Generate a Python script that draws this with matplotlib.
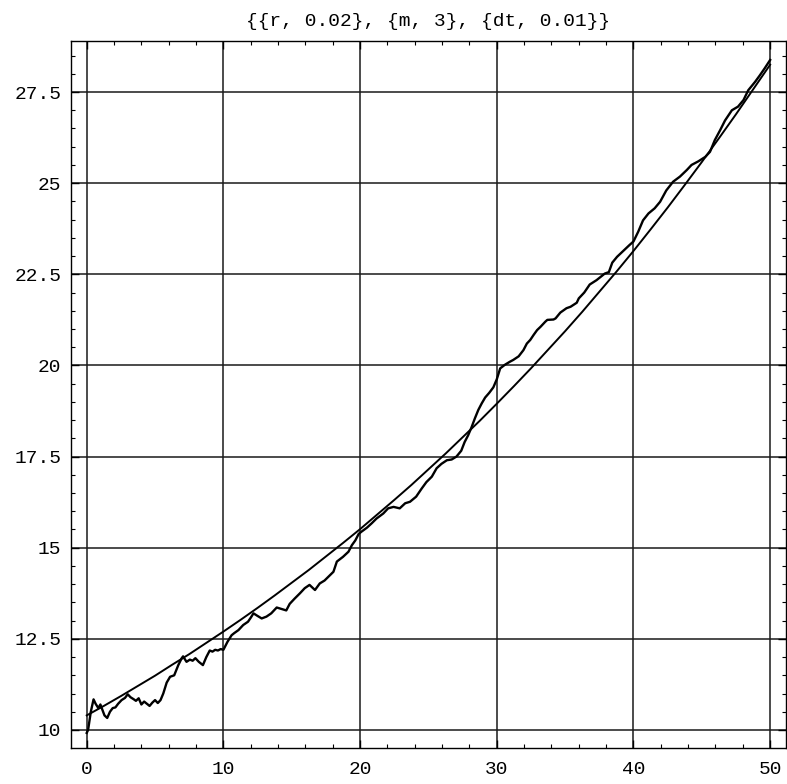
import matplotlib
matplotlib.use("Agg")
import matplotlib.pyplot as plt
from matplotlib.ticker import MultipleLocator

# ---- data ----
path_t = [0.0, 0.1, 0.3, 0.5, 0.65, 0.85, 1.0, 1.15, 1.3, 1.5, 1.7, 1.9, 2.1, 2.3, 2.55,
          2.8, 3.0, 3.2, 3.45, 3.6, 3.8, 4.0, 4.2, 4.4, 4.6, 4.8, 5.0, 5.2, 5.4, 5.6,
          5.85, 6.1, 6.4, 6.7, 6.95, 7.05, 7.3, 7.55, 7.75, 7.95, 8.2, 8.5, 8.75, 9.0,
          9.2, 9.4, 9.6, 9.8, 10.0, 10.3, 10.6, 10.8, 11.1, 11.45, 11.8, 12.0, 12.2,
          12.45, 12.8, 13.15, 13.5, 13.9, 14.25, 14.6, 14.85, 15.2, 15.6, 15.95, 16.3,
          16.7, 17.05, 17.4, 17.8, 18.05, 18.3, 18.75, 19.15, 19.4, 19.65, 19.9, 20.1,
          20.5, 20.85, 21.2, 21.7, 22.05, 22.45, 22.9, 23.3, 23.65, 24.1, 24.5, 24.85,
          25.25, 25.6, 25.95, 26.35, 26.7, 27.05, 27.4, 27.65, 27.9, 28.15, 28.4, 28.65,
          28.9, 29.15, 29.45, 29.75, 30.0, 30.25, 30.6, 30.95, 31.2, 31.6, 31.95, 32.2,
          32.45, 32.7, 32.95, 33.2, 33.55, 33.7, 34.15, 34.3, 34.65, 35.1, 35.4, 35.85,
          36.0, 36.4, 36.8, 37.3, 37.9, 38.2, 38.45, 38.8, 39.25, 39.7, 40.0, 40.35,
          40.7, 41.1, 41.55, 41.95, 42.4, 42.9, 43.4, 43.9, 44.25, 44.75, 45.25, 45.6,
          45.95, 46.35, 46.7, 47.2, 47.65, 48.05, 48.4, 48.9, 49.25, 49.6, 50.0]
path_y = [9.92, 10.0, 10.5, 10.84, 10.72, 10.6, 10.7, 10.55, 10.4, 10.33, 10.5, 10.6,
          10.62, 10.72, 10.82, 10.88, 10.98, 10.9, 10.84, 10.8, 10.87, 10.7, 10.78,
          10.72, 10.66, 10.75, 10.82, 10.74, 10.82, 11.0, 11.3, 11.46, 11.5, 11.78,
          11.97, 12.02, 11.87, 11.93, 11.9, 11.97, 11.87, 11.78, 12.0, 12.18, 12.15,
          12.2, 12.18, 12.22, 12.2, 12.42, 12.6, 12.66, 12.74, 12.88, 12.97, 13.08,
          13.2, 13.14, 13.06, 13.11, 13.2, 13.36, 13.32, 13.28, 13.46, 13.6, 13.75,
          13.89, 13.98, 13.84, 14.02, 14.1, 14.25, 14.34, 14.62, 14.75, 14.89, 15.07,
          15.2, 15.38, 15.44, 15.55, 15.67, 15.8, 15.94, 16.08, 16.12, 16.08, 16.22,
          16.26, 16.4, 16.62, 16.8, 16.95, 17.18, 17.3, 17.4, 17.42, 17.5, 17.66, 17.9,
          18.08, 18.3, 18.55, 18.78, 18.96, 19.12, 19.25, 19.4, 19.62, 19.92, 20.02,
          20.1, 20.15, 20.25, 20.42, 20.6, 20.7, 20.84, 20.97, 21.06, 21.2, 21.25,
          21.26, 21.29, 21.45, 21.57, 21.61, 21.72, 21.84, 22.0, 22.22, 22.34, 22.52,
          22.56, 22.82, 22.98, 23.14, 23.3, 23.4, 23.67, 23.98, 24.17, 24.31, 24.49,
          24.8, 25.04, 25.18, 25.36, 25.5, 25.6, 25.72, 25.86, 26.18, 26.46, 26.72,
          27.0, 27.1, 27.28, 27.55, 27.78, 27.96, 28.15, 28.38]

smooth_t = [0, 1.25, 2.5, 3.75, 5, 6.25, 7.5, 8.75, 10, 11.25, 12.5, 13.75, 15, 16.25,
            17.5, 18.75, 20, 21.25, 22.5, 23.75, 25, 26.25, 27.5, 28.75, 30, 31.25,
            32.5, 33.75, 35, 36.25, 37.5, 38.75, 40, 41.25, 42.5, 43.75, 45, 46.25,
            47.5, 48.75, 50]
smooth_y = [10.40, 10.66, 10.93, 11.21, 11.49, 11.79, 12.08, 12.39, 12.70, 13.02, 13.35,
            13.69, 14.04, 14.39, 14.76, 15.13, 15.51, 15.91, 16.31, 16.72, 17.15, 17.58,
            18.03, 18.48, 18.95, 19.43, 19.92, 20.43, 20.94, 21.47, 22.02, 22.57, 23.14,
            23.73, 24.33, 24.95, 25.58, 26.23, 26.89, 27.57, 28.25]

x_ticks = [0, 10, 20, 30, 40, 50]
x_tick_labels = ["0", "10", "20", "30", "40", "50"]
y_ticks = [10, 12.5, 15, 17.5, 20, 22.5, 25, 27.5]
y_tick_labels = ["10", "12.5", "15", "17.5", "20", "22.5", "25", "27.5"]
title = "{{r, 0.02}, {m, 3}, {dt, 0.01}}"

# ---- figure ----
plt.rcParams["font.family"] = ["Liberation Mono", "DejaVu Sans Mono"]
plt.rcParams["font.size"] = 14
plt.rcParams["xtick.labelsize"] = 14
plt.rcParams["ytick.labelsize"] = 14

fig = plt.figure(figsize=(7.87, 7.84), dpi=100)
ax = fig.add_axes([71 / 787, 1 - 748 / 784, 715 / 787, 707 / 784])

ax.plot(smooth_t, smooth_y, color="black", lw=1.4, zorder=3)
ax.plot(path_t, path_y, color="black", lw=1.7, zorder=4)

ax.set_xlim(-1.15, 51.16)
ax.set_ylim(9.506, 28.90)

ax.grid(True, which="major", color="#1a1a1a", lw=1.1, zorder=1)
ax.tick_params(which="both", direction="in", top=True, right=True, colors="black",
               labelsize=14)
ax.tick_params(which="major", length=6, width=1)
ax.tick_params(which="minor", length=3, width=0.8)
ax.tick_params(axis="x", which="major", pad=9)
ax.tick_params(axis="y", which="major", pad=7)

ax.set_xticks(x_ticks)
ax.set_xticklabels(x_tick_labels)
ax.set_yticks(y_ticks)
ax.set_yticklabels(y_tick_labels)
ax.xaxis.set_minor_locator(MultipleLocator(2))
ax.yaxis.set_minor_locator(MultipleLocator(0.5))

for sp in ax.spines.values():
    sp.set_linewidth(1.0)
    sp.set_color("black")

ax.set_title(title, fontsize=14, pad=11)

fig.savefig("out.png", dpi=100)
